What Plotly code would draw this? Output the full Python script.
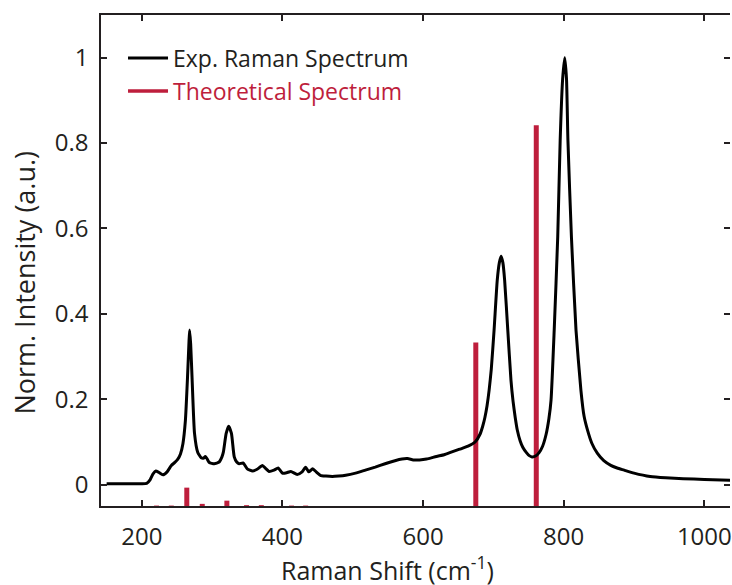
import plotly.graph_objects as go

exp_shift = [150, 180, 200, 207, 212, 216, 220, 224, 230, 236, 242, 247, 251, 255, 258.5,
             262, 265, 267, 268, 269.5, 271.5, 275, 279.5, 284.5, 288, 290.5, 293, 296,
             303, 310, 314, 316, 320, 323.5, 327.5, 331.5, 335, 338.5, 344, 350, 357.5,
             364, 371.5, 376, 381, 388, 394, 400, 406, 412, 421, 428, 433, 437.5, 443,
             448, 454, 462, 471, 480, 490, 504, 518, 532, 546, 560, 570, 578, 586, 595,
             605, 619, 630, 640, 652, 664, 674, 681, 685, 688, 691, 694, 697, 701, 705.5,
             708.5, 711, 713.5, 716, 720.5, 725, 728, 731, 734, 738, 742, 747, 751, 755,
             760, 765, 770, 775, 779, 782, 786.5, 791.5, 795, 798.5, 801.5, 804, 806, 811,
             817.5, 824.5, 829, 834, 840, 848, 857, 867, 876, 886, 900, 923, 945, 970,
             1000, 1040]
exp_intensity = [0.002, 0.002, 0.002, 0.003, 0.012, 0.025, 0.032, 0.029, 0.023, 0.030, 0.045,
                 0.052, 0.059, 0.072, 0.096, 0.150, 0.250, 0.330, 0.362, 0.330, 0.250, 0.120,
                 0.076, 0.063, 0.062, 0.066, 0.060, 0.052, 0.049, 0.053, 0.065, 0.076, 0.120,
                 0.137, 0.120, 0.065, 0.053, 0.049, 0.051, 0.037, 0.032, 0.036, 0.045, 0.038,
                 0.031, 0.034, 0.039, 0.027, 0.028, 0.031, 0.024, 0.030, 0.041, 0.030, 0.037,
                 0.030, 0.022, 0.020, 0.019, 0.020, 0.022, 0.027, 0.034, 0.041, 0.049, 0.056,
                 0.060, 0.061, 0.058, 0.058, 0.060, 0.066, 0.070, 0.076, 0.083, 0.090, 0.100,
                 0.118, 0.138, 0.158, 0.185, 0.222, 0.270, 0.362, 0.479, 0.520, 0.535, 0.520,
                 0.479, 0.362, 0.245, 0.195, 0.158, 0.128, 0.103, 0.087, 0.075, 0.068, 0.065,
                 0.067, 0.075, 0.090, 0.118, 0.155, 0.198, 0.362, 0.580, 0.807, 0.950, 1.000,
                 0.950, 0.807, 0.580, 0.362, 0.221, 0.160, 0.127, 0.097, 0.073, 0.056, 0.045,
                 0.039, 0.034, 0.027, 0.019, 0.016, 0.014, 0.012, 0.010]

# Theoretical spectrum (stick positions and top values; sticks rise from the axis floor)
theo_shift = [221, 242, 264, 286, 321, 349, 370, 413, 433, 675, 761]
theo_top = [-0.049, -0.049, -0.007, -0.045, -0.0375, -0.048, -0.048, -0.049, -0.049, 0.333, 0.842]

x_ticks = [200, 400, 600, 800, 1000]
y_ticks = [0, 0.2, 0.4, 0.6, 0.8, 1]
y_tick_text = ["0", "0.2", "0.4", "0.6", "0.8", "1"]

X_RANGE = [142, 1036.5]
Y_RANGE = [-0.05, 1.1]
RED = "#BE1E3C"
INK = "#231F20"
FONT = "Open Sans"

stick_x, stick_y = [], []
for s, t in zip(theo_shift, theo_top):
    stick_x += [s, s, None]
    stick_y += [Y_RANGE[0], t, None]

fig = go.Figure()
fig.add_trace(go.Scatter(x=stick_x, y=stick_y, mode="lines",
                         line=dict(color=RED, width=5), showlegend=False,
                         name="Theoretical Spectrum"))
fig.add_trace(go.Scatter(x=exp_shift, y=exp_intensity, mode="lines",
                         line=dict(color="#000000", width=3, shape="spline", smoothing=0.5),
                         name="Exp. Raman Spectrum", legendrank=1))
# legend-only entry for the theoretical sticks (thinner swatch, red label)
fig.add_trace(go.Scatter(x=[None], y=[None], mode="lines",
                         line=dict(color=RED, width=3.5),
                         name="<span style='color:%s'>Theoretical Spectrum</span>" % RED,
                         legendrank=2))
fig.add_trace(go.Scatter(x=[None], y=[None], yaxis="y2", showlegend=False, hoverinfo="skip"))

axis_common = dict(ticks="inside", ticklen=6, tickwidth=1.5, tickcolor=INK,
                   linecolor=INK, linewidth=1.5, showgrid=False, zeroline=False,
                   tickfont=dict(family=FONT, size=24, color=INK))

fig.update_layout(
    width=732, height=585,
    margin=dict(l=101, r=0, t=15, b=79),
    paper_bgcolor="white", plot_bgcolor="white",
    font=dict(family=FONT, size=23, color=INK),
    showlegend=True,
    legend=dict(x=0.035, y=0.956, xanchor="left", yanchor="top",
                bgcolor="rgba(0,0,0,0)", itemwidth=40,
                font=dict(family=FONT, size=23, color=INK), traceorder="normal"),
    xaxis=dict(range=X_RANGE, tickvals=x_ticks, showline=True, mirror="ticks",
               ticklabelstandoff=8, ticklabeloverflow="allow", **axis_common),
    yaxis=dict(range=Y_RANGE, tickvals=y_ticks, ticktext=y_tick_text, showline=True,
               mirror=False, ticklabelstandoff=6, **axis_common),
    yaxis2=dict(range=Y_RANGE, tickvals=y_ticks, overlaying="y", side="right",
                showticklabels=False, showline=False, ticks="inside", ticklen=6,
                tickwidth=1.5, tickcolor=INK, showgrid=False, zeroline=False),
    annotations=[
        dict(text="Raman Shift (cm<sup>-1</sup>)", xref="paper", yref="paper",
             x=0.455, y=0, xanchor="center", yanchor="middle", yshift=-62,
             showarrow=False, font=dict(family=FONT, size=25, color=INK)),
        dict(text="Norm. Intensity (a.u.)", xref="paper", yref="paper",
             x=0, y=0.455, xanchor="center", yanchor="middle", xshift=-76,
             textangle=-90, showarrow=False, font=dict(family=FONT, size=27, color=INK)),
    ],
)

fig.write_html("out.html", config={"displayModeBar": False},
               post_script="document.body.style.margin='0';")
